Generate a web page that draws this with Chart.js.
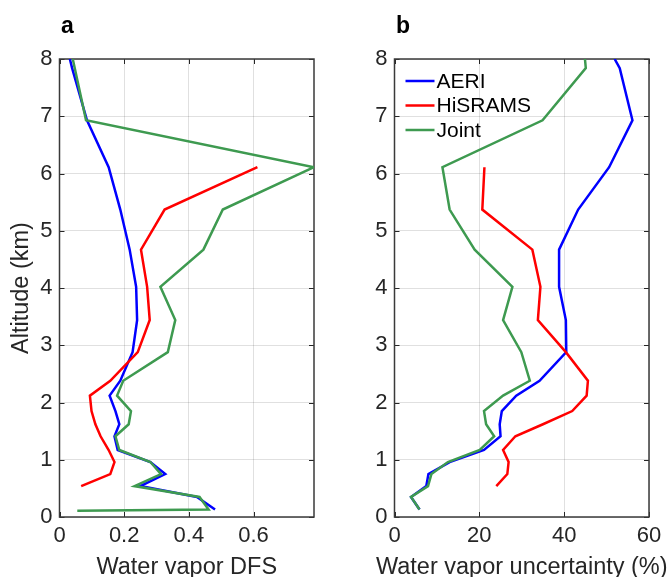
<!DOCTYPE html>
<html><head><meta charset="utf-8">
<script src="https://cdn.jsdelivr.net/npm/chart.js@4.4.1/dist/chart.umd.min.js"></script>
<style>
html,body{margin:0;padding:0;background:#fff;}
body{width:670px;height:577px;overflow:hidden;position:relative;}
#ca{position:absolute;left:0;top:0;}
#cb{position:absolute;left:335px;top:0;}
</style></head>
<body>
<canvas id="ca" width="335" height="577"></canvas>
<canvas id="cb" width="335" height="577"></canvas>
<script>
// ---- data ----
const seriesNames = ['AERI', 'HiSRAMS', 'Joint'];
const altitude = [0.11, 0.13, 0.35, 0.54, 0.75, 0.96, 1.17, 1.41, 1.62, 1.85, 2.12, 2.38, 2.88, 3.44, 4.02, 4.67, 5.37, 6.11, 6.93, 7.84, 8.0];

const dfsAERI    = [null, 0.481, 0.425, 0.250, 0.327, 0.281, 0.180, 0.170, 0.185, 0.173, 0.155, 0.188, 0.226, 0.240, 0.237, 0.217, 0.188, 0.152, 0.085, 0.039, 0.032];
const dfsHiSRAMS = [null, null, null, 0.067, 0.157, 0.170, 0.152, 0.127, 0.111, 0.099, 0.094, 0.157, 0.242, 0.279, 0.271, 0.252, 0.325, 0.612, null, null, null];
const dfsJoint   = [0.055, 0.461, 0.433, 0.232, 0.314, 0.281, 0.185, 0.173, 0.214, 0.221, 0.178, 0.197, 0.335, 0.358, 0.312, 0.445, 0.505, 0.787, 0.082, null, 0.041];

const uncAERI    = [null, 5.9, 3.9, 7.5, 8.0, 13.0, 21.1, 25.0, 24.8, 25.3, 28.7, 34.2, 40.5, 40.4, 38.8, 38.8, 43.3, 50.6, 56.1, 53.1, 51.9];
const uncHiSRAMS = [null, null, null, 24.0, 26.6, 26.9, 25.6, 28.5, 35.0, 41.9, 45.3, 45.6, 40.4, 33.8, 34.4, 32.5, 20.7, 21.2, null, null, null];
const uncJoint   = [null, 5.9, 3.9, 7.9, 8.7, 12.6, 20.1, 23.5, 21.6, 21.1, 25.6, 31.9, 29.9, 25.6, 27.8, 18.9, 13.0, 11.3, 34.9, 45.1, 44.9];

const altTicks = [0, 1, 2, 3, 4, 5, 6, 7, 8];
const dfsTicks = [0, 0.2, 0.4, 0.6];
const uncTicks = [0, 20, 40, 60];
const dfsRange = [0, 0.787];
const uncRange = [0, 60];
const altRange = [0, 8];

// ---- styling ----
const colors = ['#0000ff', '#ff0000', '#3e9a50'];
const FONT = "'Liberation Sans', Arial, Helvetica, sans-serif";
const AX = '#262626';

function pts(vals) {
  return altitude.map((a, i) => ({ x: vals[i], y: a })).filter(p => p.x !== null);
}
function makeDatasets(arrs) {
  return arrs.map((v, i) => ({
    label: seriesNames[i],
    data: pts(v),
    showLine: true,
    borderColor: colors[i],
    backgroundColor: colors[i],
    borderWidth: 2.5,
    pointRadius: 0,
    tension: 0,
    order: 2 - i
  }));
}

const boxPlugin = {
  id: 'box',
  beforeDatasetsDraw(chart) {
    const { ctx, chartArea: a, scales } = chart;
    ctx.save();
    ctx.strokeStyle = AX;
    ctx.lineWidth = 1;
    const L = 5;
    ctx.beginPath();
    scales.x.ticks.forEach(t => {
      const x = Math.round(scales.x.getPixelForValue(t.value)) + 0.5;
      ctx.moveTo(x, a.bottom); ctx.lineTo(x, a.bottom - L);
      ctx.moveTo(x, a.top); ctx.lineTo(x, a.top + L);
    });
    scales.y.ticks.forEach(t => {
      const y = Math.round(scales.y.getPixelForValue(t.value)) + 0.5;
      ctx.moveTo(a.left, y); ctx.lineTo(a.left + L, y);
      ctx.moveTo(a.right, y); ctx.lineTo(a.right - L, y);
    });
    ctx.stroke();
    ctx.lineWidth = 1.5;
    ctx.strokeStyle = '#3a3a3a';
    ctx.strokeRect(a.left, a.top, a.right - a.left, a.bottom - a.top);
    ctx.restore();
  }
};

// panel letter + x-axis title (drawn without width compression)
const panelText = {
  id: 'panelText',
  afterDraw(chart, args, opts) {
    const { ctx, chartArea: a } = chart;
    ctx.save();
    ctx.fillStyle = '#000';
    ctx.font = "bold 23px " + FONT;
    ctx.textBaseline = 'alphabetic';
    ctx.textAlign = 'left';
    ctx.fillText(opts.text, opts.x, opts.y);
    ctx.fillStyle = AX;
    ctx.font = "23.5px " + FONT;
    ctx.textAlign = 'center';
    ctx.fillText(opts.xTitle, (a.left + a.right) / 2, 574);
    ctx.restore();
  }
};

const inLegend = {
  id: 'inLegend',
  afterDatasetsDraw(chart, args, opts) {
    if (!opts.show) return;
    const { ctx, chartArea: a } = chart;
    ctx.save();
    ctx.font = "21px " + FONT;
    ctx.textBaseline = 'middle';
    chart.data.datasets.forEach((ds, i) => {
      const y = a.top + 22 + i * 24.5;
      ctx.strokeStyle = ds.borderColor;
      ctx.lineWidth = 2.5;
      ctx.beginPath();
      ctx.moveTo(a.left + 11, y); ctx.lineTo(a.left + 40, y);
      ctx.stroke();
      ctx.fillStyle = '#000';
      ctx.fillText(ds.label, a.left + 42, y + 1);
    });
    ctx.restore();
  }
};

function makeChart(id, arrs, xTicks, xRange, xTitle, label, legend) {
  return new Chart(document.getElementById(id), {
    type: 'scatter',
    data: { datasets: makeDatasets(arrs) },
    plugins: [boxPlugin, panelText, inLegend],
    options: {
      responsive: false,
      animation: false,
      layout: { padding: { top: 59, left: 0, right: 21, bottom: 0 } },
      plugins: {
        legend: { display: false },
        tooltip: { enabled: false },
        panelText: { text: label, x: 61, y: 33, xTitle: xTitle },
        inLegend: { show: legend }
      },
      scales: {
        x: {
          type: 'linear',
          min: xRange[0], max: xRange[1],
          afterBuildTicks: s => { s.ticks = xTicks.map(v => ({ value: v })); },
          afterFit: s => { s.height = 60; },
          ticks: {
            font: { family: FONT, size: 22 }, color: AX, padding: 6,
            maxRotation: 0, autoSkip: false,
            callback: v => String(v)
          },
          grid: { color: 'rgba(0,0,0,0.12)', lineWidth: 1, drawTicks: false },
          border: { display: false },
          title: { display: false }
        },
        y: {
          type: 'linear',
          min: altRange[0], max: altRange[1],
          afterBuildTicks: s => { s.ticks = altTicks.map(v => ({ value: v })); },
          afterFit: s => { s.width = 59.5; },
          ticks: { font: { family: FONT, size: 22 }, color: AX, padding: 7, autoSkip: false },
          grid: { color: 'rgba(0,0,0,0.12)', lineWidth: 1, drawTicks: false },
          border: { display: false },
          title: { display: label === 'a', text: 'Altitude (km)', font: { family: FONT, size: 23.5, lineHeight: 0.9 }, color: AX, padding: { top: 10.5, bottom: 0 } }
        }
      }
    }
  });
}

makeChart('ca', [dfsAERI, dfsHiSRAMS, dfsJoint], dfsTicks, dfsRange, 'Water vapor DFS', 'a', false);
makeChart('cb', [uncAERI, uncHiSRAMS, uncJoint], uncTicks, uncRange, 'Water vapor uncertainty (%)', 'b', true);
</script>
</body></html>
